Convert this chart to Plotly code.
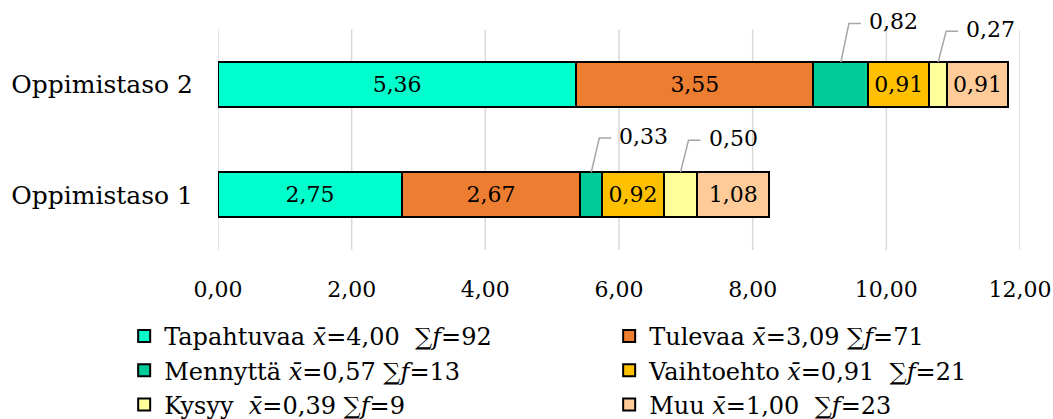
import plotly.graph_objects as go

categories = ["Oppimistaso 1", "Oppimistaso 2"]
series_names = ["Tapahtuvaa", "Tulevaa", "Mennyttä", "Vaihtoehto", "Kysyy", "Muu"]
legend_labels = [
    "Tapahtuvaa <i>x\u0304</i>=4,00\u00a0\u00a0∑<i>f</i>=92",
    "Tulevaa <i>x\u0304</i>=3,09 ∑<i>f</i>=71",
    "Mennyttä <i>x\u0304</i>=0,57 ∑<i>f</i>=13",
    "Vaihtoehto <i>x\u0304</i>=0,91\u00a0\u00a0∑<i>f</i>=21",
    "Kysyy\u00a0\u00a0<i>x\u0304</i>=0,39 ∑<i>f</i>=9",
    "Muu <i>x\u0304</i>=1,00\u00a0\u00a0∑<i>f</i>=23",
]
tapahtuvaa = [2.75, 5.36]
tulevaa = [2.67, 3.55]
mennytta = [0.33, 0.82]
vaihtoehto = [0.92, 0.91]
kysyy = [0.50, 0.27]
muu = [1.08, 0.91]
x_ticks = [0, 2, 4, 6, 8, 10, 12]

values = [tapahtuvaa, tulevaa, mennytta, vaihtoehto, kysyy, muu]
colors = ["#00FFCC", "#ED7D31", "#00CC99", "#FFC000", "#FFFF99", "#FFCC99"]
callout_series = {"Mennyttä", "Kysyy"}   # labels drawn outside with leader lines
bar_w = 0.41
FONT = "DejaVu Serif"

def fmt(v):
    return f"{v:.2f}".replace(".", ",")

ypos = list(range(len(categories)))
fig = go.Figure()

# vertical gridlines at tick positions, spanning only the category band
for xv in x_ticks:
    fig.add_shape(type="line", xref="x", yref="y", x0=xv, x1=xv, y0=-0.5, y1=1.5,
                  line=dict(color="#D9D9D9", width=1.5), layer="below")

for name, lab, vals, col in zip(series_names, legend_labels, values, colors):
    texts = ["" if name in callout_series else fmt(v) for v in vals]
    fig.add_trace(go.Bar(
        y=ypos, x=vals, orientation="h", name=lab, width=bar_w,
        marker=dict(color=col, line=dict(color="black", width=2)),
        text=texts, textposition="inside", insidetextanchor="middle",
        textangle=0, constraintext="none",
        textfont=dict(family=FONT, size=22, color="black"),
        hoverinfo="skip",
    ))

# leader lines + callout labels
rise = {(2, 1): 0.35, (4, 1): 0.28, (2, 0): 0.31, (4, 0): 0.29}
for si, (name, vals) in enumerate(zip(series_names, values)):
    if name not in callout_series:
        continue
    for ci, v in enumerate(vals):
        start = sum(values[k][ci] for k in range(si))
        xm = start + v / 2
        top = ci + bar_w / 2
        r = rise.get((si, ci), 0.3)
        lx = [xm, xm + 0.12, xm + 0.30]
        ly = [top, top + r, top + r]
        fig.add_trace(go.Scatter(x=lx, y=ly, mode="lines",
                                 line=dict(color="#A6A6A6", width=1.5),
                                 showlegend=False, hoverinfo="skip"))
        fig.add_annotation(x=lx[-1], y=ly[-1], text=fmt(v), showarrow=False,
                           xanchor="left", yanchor="middle", xshift=6, yshift=2,
                           font=dict(family=FONT, size=22, color="black"))

fig.update_layout(
    barmode="stack",
    width=1053, height=419,
    margin=dict(l=218, r=33, t=2, b=169, autoexpand=False),
    paper_bgcolor="white", plot_bgcolor="white",
    separators=", ",
    font=dict(family=FONT, size=22, color="black"),
    showlegend=True,
    legend=dict(orientation="h", xref="paper", yref="paper",
                x=-0.117, y=-0.258, xanchor="left", yanchor="top",
                entrywidth=440, entrywidthmode="pixels", traceorder="normal",
                font=dict(family=FONT, size=24, color="black"),
                tracegroupgap=0),
    xaxis=dict(range=[0, 12], tickvals=x_ticks, tickformat=".2f",
               showgrid=False, zeroline=False, showline=False, ticks="",
               ticklabelstandoff=24,
               tickfont=dict(family=FONT, size=22, color="black")),
    yaxis=dict(range=[-0.5, 1.75], tickvals=ypos, ticktext=categories,
               showgrid=False, zeroline=False, showline=False, ticks="",
               ticklabelstandoff=24,
               tickfont=dict(family=FONT, size=25, color="black")),
)
fig.write_html("out.html")
